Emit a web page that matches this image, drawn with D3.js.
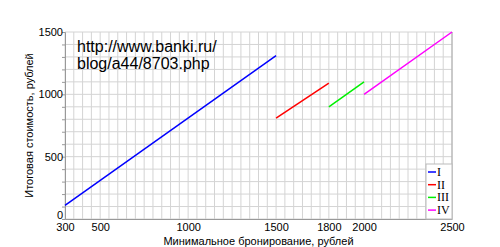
<!DOCTYPE html>
<html>
<head>
<script src="https://d3js.org/d3.v7.min.js"></script>
<style>
  body { margin: 0; background: #fff; }
  text { font-family: "Liberation Sans", Arial, sans-serif; }
</style>
</head>
<body>
<svg id="chart" width="500" height="247"></svg>
<script>
// series: start / end of each tariff segment
var seriesNames = ["I", "II", "III", "IV"];
var seriesColors = ["#0000ff", "#ff0000", "#00f000", "#ff00ff"];
var seriesX = [[300, 1500], [1500, 1800], [1800, 2000], [2000, 2500]];
var seriesY = [[110, 1310], [810, 1090], [900, 1100], [1000, 1500]];

var xTickValues = [300, 500, 1000, 1500, 1800, 2000, 2500];
var yTickValues = [0, 500, 1000, 1500];

var margin = {top: 32, right: 48, bottom: 28, left: 65},
    width = 500 - margin.left - margin.right,
    height = 247 - margin.top - margin.bottom;

var svg = d3.select("#chart")
  .append("g")
  .attr("transform", "translate(" + margin.left + "," + margin.top + ")");

var x = d3.scaleLinear().domain([300, 2500]).range([0, width]);
var y = d3.scaleLinear().domain([0, 1500]).range([height, 0]);

// grid
svg.append("g").selectAll("line")
  .data(d3.range(300, 2501, 50))
  .enter().append("line")
  .attr("x1", d => x(d)).attr("x2", d => x(d))
  .attr("y1", 0).attr("y2", height)
  .attr("stroke", "#d4d4d4");
svg.append("g").selectAll("line")
  .data(d3.range(0, 1501, 100))
  .enter().append("line")
  .attr("x1", 0).attr("x2", width)
  .attr("y1", d => y(d)).attr("y2", d => y(d))
  .attr("stroke", "#d4d4d4");

// right frame line
svg.append("line").attr("x1", width).attr("x2", width).attr("y1", 0).attr("y2", height).attr("stroke", "#aaa");

// y axis with small minor ticks
var yAxis = svg.append("g")
  .call(d3.axisLeft(y).tickValues(d3.range(0, 1501, 100)).tickSize(3)
    .tickFormat(d => yTickValues.indexOf(d) >= 0 ? d : ""));
yAxis.select(".domain").attr("stroke", "#999");
yAxis.selectAll(".tick line").attr("stroke", "#999");
yAxis.selectAll(".tick text").attr("x", -2).style("font-size", "11px").attr("fill", "#000")
  .attr("y", d => d === 0 ? -4 : 0);

// x axis
var xAxis = svg.append("g")
  .attr("transform", "translate(0," + height + ")")
  .call(d3.axisBottom(x).tickValues(xTickValues).tickSize(0).tickFormat(d3.format("d")));
xAxis.select(".domain").attr("stroke", "#999");
xAxis.selectAll(".tick text").attr("dy", "0.55em").attr("y", 6).style("font-size", "11px").attr("fill", "#000");

// axis titles
svg.append("text")
  .attr("x", width / 2).attr("y", height + 26)
  .attr("text-anchor", "middle")
  .style("font-size", "11px")
  .text("Минимальное бронирование, рублей");
svg.append("text")
  .attr("transform", "rotate(-90)")
  .attr("x", -height / 2).attr("y", -32)
  .attr("text-anchor", "middle")
  .style("font-size", "11px")
  .text("Итоговая стоимость, рублей");

// segments
seriesNames.forEach(function(name, i) {
  var pts = seriesX[i].map((xv, j) => [xv, seriesY[i][j]]);
  svg.append("path")
    .datum(pts)
    .attr("fill", "none")
    .attr("stroke", seriesColors[i])
    .attr("stroke-width", 1.5)
    .attr("d", d3.line().x(d => x(d[0])).y(d => y(d[1])));
});

// url note
svg.append("text")
  .attr("x", 12).attr("y", 20)
  .style("font-size", "16px")
  .text("http://www.banki.ru/");
svg.append("text")
  .attr("x", 12).attr("y", 37)
  .style("font-size", "16px")
  .text("blog/a44/8703.php");

// legend
var legend = svg.append("g").attr("transform", "translate(" + (width - 26) + "," + (height - 55) + ")");
legend.append("rect").attr("width", 26).attr("height", 55)
  .attr("fill", "#fff").attr("stroke", "#bbb");
seriesNames.forEach(function(name, i) {
  var ly = 8 + i * 12.7;
  legend.append("line").attr("x1", 2).attr("x2", 10).attr("y1", ly).attr("y2", ly)
    .attr("stroke", seriesColors[i]).attr("stroke-width", 1.5);
  legend.append("text").attr("x", 11).attr("y", ly + 4)
    .style("font-family", "'Liberation Serif', 'Times New Roman', serif")
    .style("font-size", "12px")
    .text(name);
});
</script>
</body>
</html>
